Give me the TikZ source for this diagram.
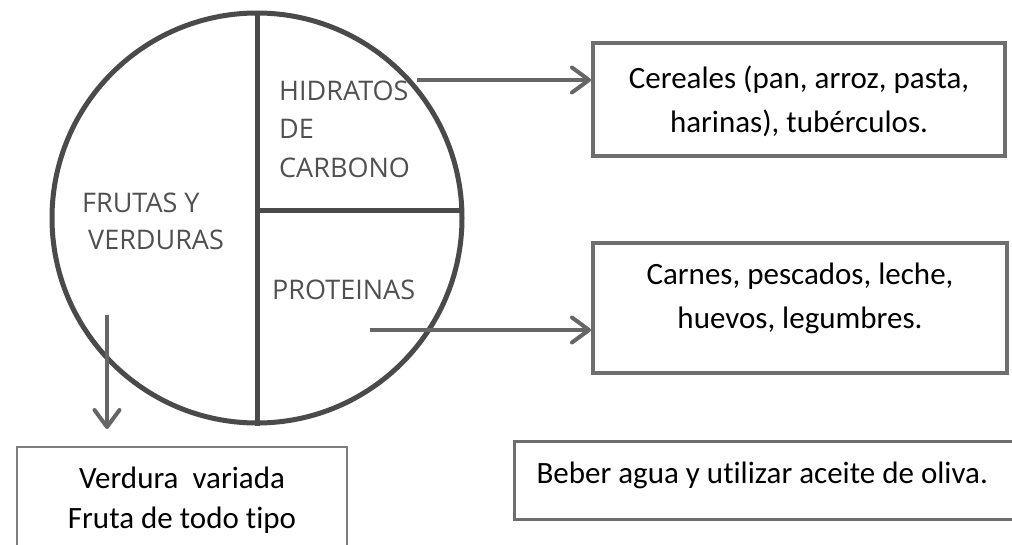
\documentclass[tikz,border=0pt]{standalone}
\usepackage{fontspec}
\setmainfont{Carlito}[Ligatures=NoCommon]
\newfontfamily\labfont{Open Sans}
\usetikzlibrary{arrows.meta}
\definecolor{plate}{HTML}{4A4A4A}
\definecolor{arrowgray}{HTML}{666666}
\definecolor{boxgray}{HTML}{6E6E6E}
\definecolor{labgray}{HTML}{505050}
\tikzset{
  plateline/.style={draw=plate, line width=5pt},
  conn/.style={draw=arrowgray, line width=4pt, -{Straight Barb[length=17pt,width=25pt,round]}},
  infobox/.style={draw=boxgray, line width=4pt, rectangle, inner sep=0pt, align=center,
    font=\fontsize{31}{44}\selectfont, text depth=6pt},
  lab/.style={inner sep=0pt, align=left, text=labgray, font=\labfont\fontsize{27}{38.5}\selectfont}
}
\begin{document}
\begin{tikzpicture}[x=1pt,y=-1pt]
\useasboundingbox (0,0) rectangle (1012,544);
\clip (0,0) rectangle (1012,544);
% plate
\node[plateline, circle, minimum size=410pt, inner sep=0pt] (plate) at (257,218) {};
\draw[plateline] (plate.north) -- (plate.south);
\coordinate (mid) at (257,210);
\coordinate (rim) at (463,210);
\draw[plateline] (mid) -- (rim);
% labels (anchor at baseline of last line)
\node[lab, anchor=base west] (hid) at (279,177) {HIDRATOS\\DE\\CARBONO};
\node[lab, anchor=base west, font=\labfont\fontsize{27}{37}\selectfont] (fru) at (82,249) {FRUTAS Y\\\hspace{6pt}VERDURAS};
\node[lab, anchor=base west] (pro) at (272,299) {PROTEINAS};
% boxes
\node[infobox, minimum width=412pt, minimum height=113pt, text height=71pt] (cer) at (799,99.5)
  {Cereales (pan, arroz, pasta,\\harinas), tubérculos.};
\node[infobox, minimum width=414pt, minimum height=130pt, text height=46pt] (car) at (800,308)
  {Carnes, pescados, leche,\\huevos, legumbres.};
\node[infobox, line width=2pt, draw=boxgray!90, minimum width=330pt, minimum height=106pt,
  font=\fontsize{31}{40}\selectfont, text height=62pt] (ver) at (182,500)
  {Verdura\ \ variada\\Fruta de todo tipo};
\node[infobox, line width=3pt, anchor=west, inner xsep=22pt, minimum height=78pt,
  text height=23pt, text depth=17pt] (beb) at (513,480)
  {\makebox[480pt][l]{Beber agua y utilizar aceite de oliva.}};
% connectors
\coordinate (h1) at (417,80);
\coordinate (p1) at (370,330);
\coordinate (f1) at (107,315);
\coordinate (f2) at (107,429);
\draw[conn] (h1) -- (h1 -| cer.west);
\draw[conn] (p1) -- (p1 -| car.west);
\draw[conn] (f1) -- (f2);
\end{tikzpicture}
\end{document}
